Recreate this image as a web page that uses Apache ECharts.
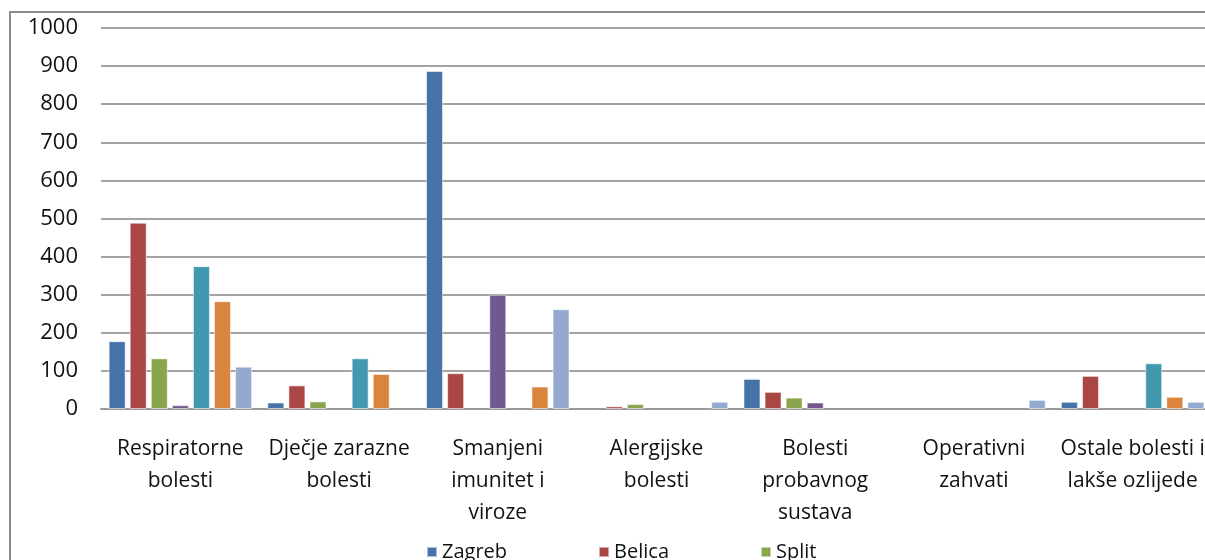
<!DOCTYPE html>
<html>
<head>
<meta charset="utf-8">
<title>Bolesti po lokacijama</title>
<script src="https://cdn.jsdelivr.net/npm/echarts@6/dist/echarts.min.js"></script>
<style>
  html, body { margin: 0; padding: 0; background: #fff; }
  #chart { width: 1205px; height: 560px; }
</style>
</head>
<body>
<div id="chart"></div>
<script>
// kategorije (prijelomi redaka kao na originalu)
const categories = [
  'Respiratorne\nbolesti',
  'Dječje zarazne\nbolesti',
  'Smanjeni\nimunitet i\nviroze',
  'Alergijske\nbolesti',
  'Bolesti\nprobavnog\nsustava',
  'Operativni\nzahvati',
  'Ostale bolesti i\nlakše ozlijede'
]

const seriesNames = ['Zagreb', 'Belica', 'Split', 'Niz 4', 'Niz 5', 'Niz 6', 'Niz 7']
const legendNames = ['Zagreb', 'Belica', 'Split']

const zagreb = [178, 17, 887, 0, 79, 0, 19]
const belica = [489, 62, 94, 7, 45, 0, 87]
const split = [133, 20, 0, 13, 30, 0, 0]
const niz4 = [10, 0, 300, 0, 17, 0, 0]
const niz5 = [375, 133, 0, 0, 0, 0, 120]
const niz6 = [283, 92, 59, 0, 0, 0, 32]
const niz7 = [111, 0, 262, 19, 0, 24, 19]

const yTicks = [0, 100, 200, 300, 400, 500, 600, 700, 800, 900, 1000]

const colors = ['#4572A7', '#AA4643', '#89A54E', '#71588F', '#4198AF', '#DB843D', '#93A9CF']
const values = [zagreb, belica, split, niz4, niz5, niz6, niz7]

const font = '"Open Sans", "Noto Sans", sans-serif'

const chart = echarts.init(document.getElementById('chart'))

chart.setOption({
  animation: false,
  color: colors,
  textStyle: { fontFamily: font },
  graphic: [{
    type: 'rect',
    silent: true,
    shape: { x: 10, y: 12, width: 1400, height: 700 },
    style: { fill: 'none', stroke: '#8c8c8c', lineWidth: 2 }
  }],
  // graf je u originalu odrezan s desne strane
  grid: {
    left: 101,
    width: 1111,
    top: 28,
    bottom: 151,
    outerBoundsMode: 'none',
    containLabel: false
  },
  legend: {
    data: legendNames,
    left: 421,
    top: 537,
    itemWidth: 10,
    itemHeight: 10,
    itemGap: 91,
    icon: 'rect',
    textStyle: { fontFamily: font, fontSize: 20, color: '#111' }
  },
  xAxis: {
    type: 'category',
    data: categories,
    axisTick: { show: false },
    axisLine: { lineStyle: { color: '#9a9a9a', width: 2 } },
    axisLabel: {
      interval: 0,
      margin: 24,
      fontFamily: font,
      fontSize: 21,
      lineHeight: 32,
      color: '#111'
    }
  },
  yAxis: {
    type: 'value',
    min: yTicks[0],
    max: yTicks[yTicks.length - 1],
    interval: 100,
    axisLine: { show: false },
    axisTick: { show: false },
    splitLine: { lineStyle: { color: '#a3a3a3', width: 2 } },
    axisLabel: {
      margin: 23,
      fontFamily: font,
      fontSize: 22,
      color: '#111',
      formatter: v => String(v)
    }
  },
  series: seriesNames.map((name, i) => ({
    name: name,
    type: 'bar',
    // prazne vrijednosti se ne crtaju
    data: values[i].map(v => (v === 0 ? null : v)),
    barWidth: 17,
    barGap: '24%',
    itemStyle: {
      borderColor: 'rgba(255,255,255,0.55)',
      borderWidth: 1
    }
  }))
})
</script>
</body>
</html>
